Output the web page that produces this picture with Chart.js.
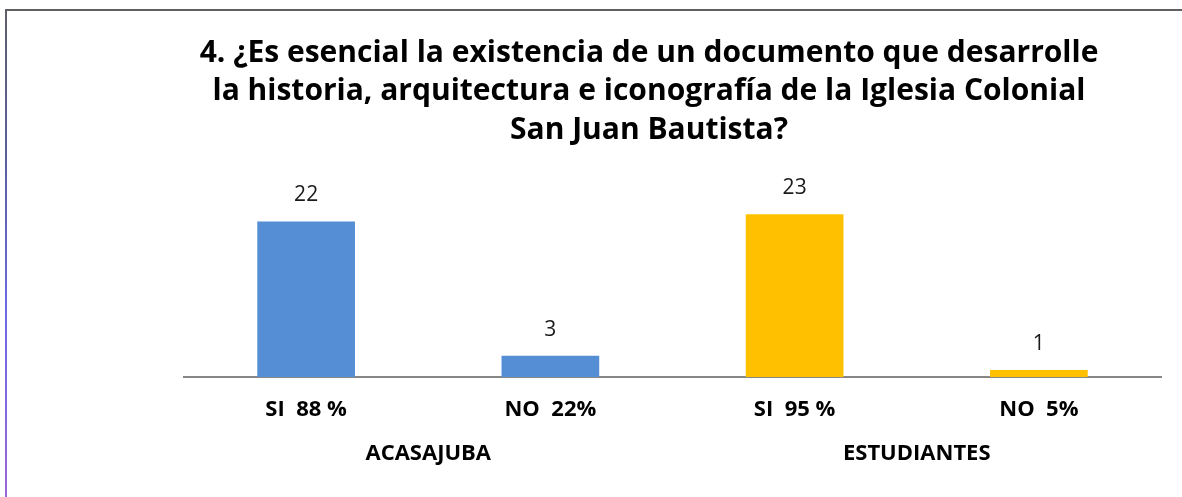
<!DOCTYPE html>
<html>
<head>
<meta charset="utf-8">
<script src="https://cdn.jsdelivr.net/npm/chart.js@4"></script>
<style>
  html, body { margin: 0; padding: 0; background: #fff; }
  #wrap { position: relative; width: 1182px; height: 497px; overflow: hidden; }
  #topline { position: absolute; left: 5px; top: 9px; width: 1177px; height: 2px; background: #5f5f5f; }
  #leftline { position: absolute; left: 5px; top: 9px; width: 2px; height: 488px;
    background: linear-gradient(to bottom, #5f5f6a 0%, #5a5f9a 30%, #6a6ae0 60%, #9a66e0 100%); }
  canvas { position: absolute; left: 0; top: 0; }
</style>
</head>
<body>
<div id="wrap">
  <canvas id="c" width="1182" height="497"></canvas>
  <div id="topline"></div>
  <div id="leftline"></div>
</div>
<script>
const titleLines = [
  "4. ¿Es esencial la existencia de un documento que desarrolle",
  "la historia, arquitectura e iconografía de la Iglesia Colonial",
  "San Juan Bautista?"
];
const categories = ["SI  88 %", "NO  22%", "SI  95 %", "NO  5%"];
const groups = ["ACASAJUBA", "ESTUDIANTES"];
const values = [22, 3, 23, 1];
const barColors = ["#558ED5", "#558ED5", "#FFC000", "#FFC000"];

const FONT = "'Open Sans', Lato, sans-serif";

const valueLabels = {
  id: "valueLabels",
  afterDatasetsDraw(chart) {
    const ctx = chart.ctx;
    const meta = chart.getDatasetMeta(0);
    ctx.save();
    ctx.font = "21px " + FONT;
    ctx.fillStyle = "#1a1a1a";
    ctx.textAlign = "center";
    ctx.textBaseline = "middle";
    meta.data.forEach((el, i) => {
      ctx.fillText(String(values[i]), el.x, el.y - 26);
    });
    ctx.restore();
  }
};

new Chart(document.getElementById("c"), {
  type: "bar",
  data: {
    labels: categories,
    datasets: [{
      data: values,
      backgroundColor: barColors,
      borderWidth: 0,
      categoryPercentage: 1,
      barPercentage: 0.4
    }]
  },
  options: {
    responsive: false,
    animation: false,
    devicePixelRatio: 1,
    layout: { padding: { left: 137, right: 21, top: 24, bottom: 0 } },
    plugins: {
      legend: { display: false },
      tooltip: { enabled: false },
      title: {
        display: true,
        text: titleLines,
        color: "#000",
        font: { family: FONT, size: 30, weight: "bold", lineHeight: 1.28 },
        padding: { top: 10, bottom: 51 }
      }
    },
    scales: {
      y: {
        min: 0, max: 25,
        grid: { display: false },
        border: { display: false },
        ticks: { display: false },
        afterFit(s) { s.width = 47; }
      },
      x: {
        weight: 0,
        grid: { display: false, drawTicks: false },
        border: { display: true, color: "#878787", width: 2 },
        ticks: { color: "#000", font: { family: FONT, size: 22, weight: "bold" }, padding: 20, maxRotation: 0 },
        afterFit(s) { s.height = 50; }
      },
      x2: {
        type: "category",
        labels: groups,
        position: "bottom",
        weight: 1,
        offset: true,
        grid: { display: false, drawTicks: false },
        border: { display: false },
        ticks: { color: "#000", font: { family: FONT, size: 22, weight: "bold" }, padding: 14, maxRotation: 0 },
        afterFit(s) { s.height = 70; }
      }
    }
  },
  plugins: [valueLabels]
});
</script>
</body>
</html>
